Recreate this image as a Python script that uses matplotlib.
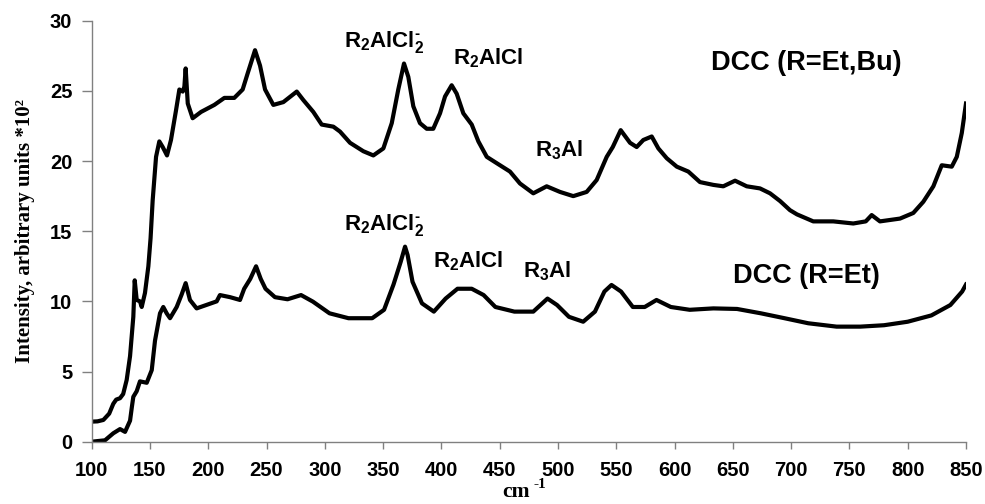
import matplotlib
matplotlib.use("Agg")
import matplotlib.pyplot as plt

plt.rcParams["mathtext.fontset"] = "custom"
plt.rcParams["mathtext.rm"] = "Liberation Sans:bold"
plt.rcParams["mathtext.default"] = "rm"

# Raman spectrum, DCC with R = Et, Bu
wn_etbu = [100, 105, 110, 115, 118.5, 121, 124.3, 127, 130, 132.9, 135.7, 136.9, 138.6,
           141.4, 142.9, 145.7, 148.6, 150.5, 152.3, 155.2, 158, 160.9, 164.6, 168,
           172.3, 175.2, 178.1, 179.5, 180.6, 182.4, 186.6, 193.8, 205.2, 213.8, 222.3,
           229.5, 233.8, 240.1, 244.4, 248.7, 255.8, 264.4, 275.9, 281.5, 290.1, 297.3,
           307.3, 313, 321.6, 333, 341.6, 350.2, 357.4, 363, 367.9, 371.6, 375.9, 381.6,
           387.4, 393, 398.8, 403.1, 408.8, 413.1, 418.8, 426, 431.7, 438.9, 447.4,
           458.8, 467.4, 478.8, 490.3, 501.7, 513.1, 524.6, 533.2, 541.8, 547, 553.8,
           561.8, 567.5, 573.2, 580.4, 586.1, 593.3, 601.9, 611.8, 621.8, 633.3, 641.8,
           651.9, 661.9, 673.3, 681.9, 690.5, 699, 705, 719, 736.2, 753.3, 764, 769.1,
           776.2, 793.4, 804.8, 813.4, 822, 829.2, 837.8, 842.1, 846.4, 850]
int_etbu = [1.43, 1.45, 1.55, 2.0, 2.7, 3.0, 3.1, 3.4, 4.4, 6.1, 8.9, 11.5, 10.1,
            10.0, 9.6, 10.6, 12.5, 14.5, 17.2, 20.3, 21.4, 21.0, 20.4, 21.5,
            23.6, 25.1, 24.95, 25.3, 26.6, 24.1, 23.05, 23.5, 24.0, 24.5, 24.5,
            25.1, 26.25, 27.9, 26.8, 25.1, 24.0, 24.2, 24.95, 24.35, 23.5, 22.6,
            22.45, 22.1, 21.3, 20.7, 20.4, 20.9, 22.7, 25.1, 26.95, 26.0, 23.9, 22.7,
            22.3, 22.3, 23.4, 24.6, 25.4, 24.8, 23.4, 22.6, 21.4, 20.3, 19.85,
            19.25, 18.4, 17.7, 18.2, 17.8, 17.5, 17.8, 18.65, 20.3, 21.0, 22.2,
            21.3, 21.0, 21.5, 21.75, 20.9, 20.2, 19.6, 19.25, 18.5, 18.3, 18.2,
            18.6, 18.2, 18.05, 17.7, 17.15, 16.5, 16.2, 15.7, 15.7, 15.55, 15.7, 16.15,
            15.7, 15.9, 16.3, 17.1, 18.2, 19.7, 19.6, 20.3, 22.0, 24.1]

# Raman spectrum, DCC with R = Et
wn_et = [100, 111.4, 118.5, 124.3, 128.6, 132.9, 134.5, 135.7, 138.6, 141.4, 147.2,
         151.5, 154.3, 158.6, 161.4, 164.3, 167.2, 172.9, 177.2, 180.6, 184.3, 190,
         198.6, 207.2, 210, 218.7, 227.2, 230.8, 236, 241, 245, 249.1, 257.2, 268,
         279.6, 289.8, 304, 320.3, 340.6, 350.8, 358.9, 365, 368.8, 371, 375.2, 383.3,
         393.5, 403.6, 413.8, 426, 436.2, 446.3, 462.6, 478.8, 491, 499.2, 509.4,
         521.6, 531.7, 539.8, 545.9, 554.1, 564.2, 574.4, 584.5, 596.8, 613, 633.3,
         653.6, 674, 694.3, 714.7, 739, 759.3, 779.7, 800, 820.3, 836.6, 846.7, 850]
int_et = [0.0, 0.1, 0.6, 0.9, 0.7, 1.5, 2.5, 3.2, 3.6, 4.3, 4.2,
          5.1, 7.2, 9.15, 9.6, 9.15, 8.8, 9.6, 10.5, 11.3, 10.1, 9.5,
          9.75, 10.0, 10.45, 10.3, 10.1, 10.9, 11.6, 12.5, 11.6, 10.9, 10.3, 10.15,
          10.45, 9.98, 9.15, 8.8, 8.8, 9.4, 11.2, 12.8, 13.9, 13.3, 11.4, 9.86,
          9.27, 10.2, 10.9, 10.9, 10.45, 9.6, 9.27, 9.27, 10.2, 9.74, 8.9,
          8.55, 9.27, 10.7, 11.17, 10.7, 9.6, 9.6, 10.1, 9.6, 9.4, 9.5,
          9.46, 9.15, 8.8, 8.44, 8.2, 8.2, 8.3, 8.55, 9.0, 9.74, 10.7, 11.2]

x_ticks = list(range(100, 851, 50))
y_ticks = [0, 5, 10, 15, 20, 25, 30]

fig = plt.figure(figsize=(9.85, 5.04), dpi=100)
ax = fig.add_axes([0.0931, 0.1236, 0.8876, 0.8353])

ax.plot(wn_etbu, int_etbu, color="black", lw=3.0, solid_joinstyle="round")
ax.plot(wn_et, int_et, color="black", lw=3.0, solid_joinstyle="round")

ax.set_xlim(100, 850)
ax.set_ylim(0, 30)
ax.set_xticks(x_ticks)
ax.set_yticks(y_ticks)

for side in ("top", "right"):
    ax.spines[side].set_visible(False)
for side in ("left", "bottom"):
    ax.spines[side].set_color("#808080")
    ax.spines[side].set_linewidth(1.0)
ax.tick_params(axis="x", direction="out", length=5, width=1, color="#808080",
               labelsize=14.5, pad=9)
ax.tick_params(axis="y", direction="out", length=7, width=1, color="#808080",
               labelsize=14.5, pad=7)
for lab in ax.get_xticklabels() + ax.get_yticklabels():
    lab.set_family("Liberation Sans")
    lab.set_fontweight("bold")

# axis titles (serif, bold)
fig.text(25 / 985, 0.5417, "Intensity, arbitrary units *10\u00b2", family="Liberation Serif",
         fontweight="bold", fontsize=15, rotation=90, ha="center", va="center")
fig.text(516 / 985, 7 / 504, "cm", family="Liberation Serif", fontweight="bold",
         fontsize=15.5, ha="center", va="baseline")
fig.text(534 / 985, 16 / 504, "-1", family="Liberation Serif", fontweight="bold",
         fontsize=11, ha="left", va="baseline")

lbl = dict(family="Liberation Sans", fontweight="bold", fontsize=16,
           ha="center", va="baseline")
ax.text(351, 28.13, "R$_2$AlCl$_2^{\\text{-}}$", **lbl)
ax.text(440, 26.92, "R$_2$AlCl", **lbl)
ax.text(501, 20.35, "R$_3$Al", **lbl)
ax.text(351, 15.08, "R$_2$AlCl$_2^{\\text{-}}$", **lbl)
ax.text(423, 12.45, "R$_2$AlCl", **lbl)
ax.text(491, 11.74, "R$_3$Al", **lbl)
ax.text(713.4, 26.48, "DCC (R=Et,Bu)", family="Liberation Sans", fontweight="bold",
        fontsize=19.5, ha="center", va="baseline")
ax.text(713.2, 11.31, "DCC (R=Et)", family="Liberation Sans", fontweight="bold",
        fontsize=19.5, ha="center", va="baseline")

fig.savefig("out.png", dpi=100)
